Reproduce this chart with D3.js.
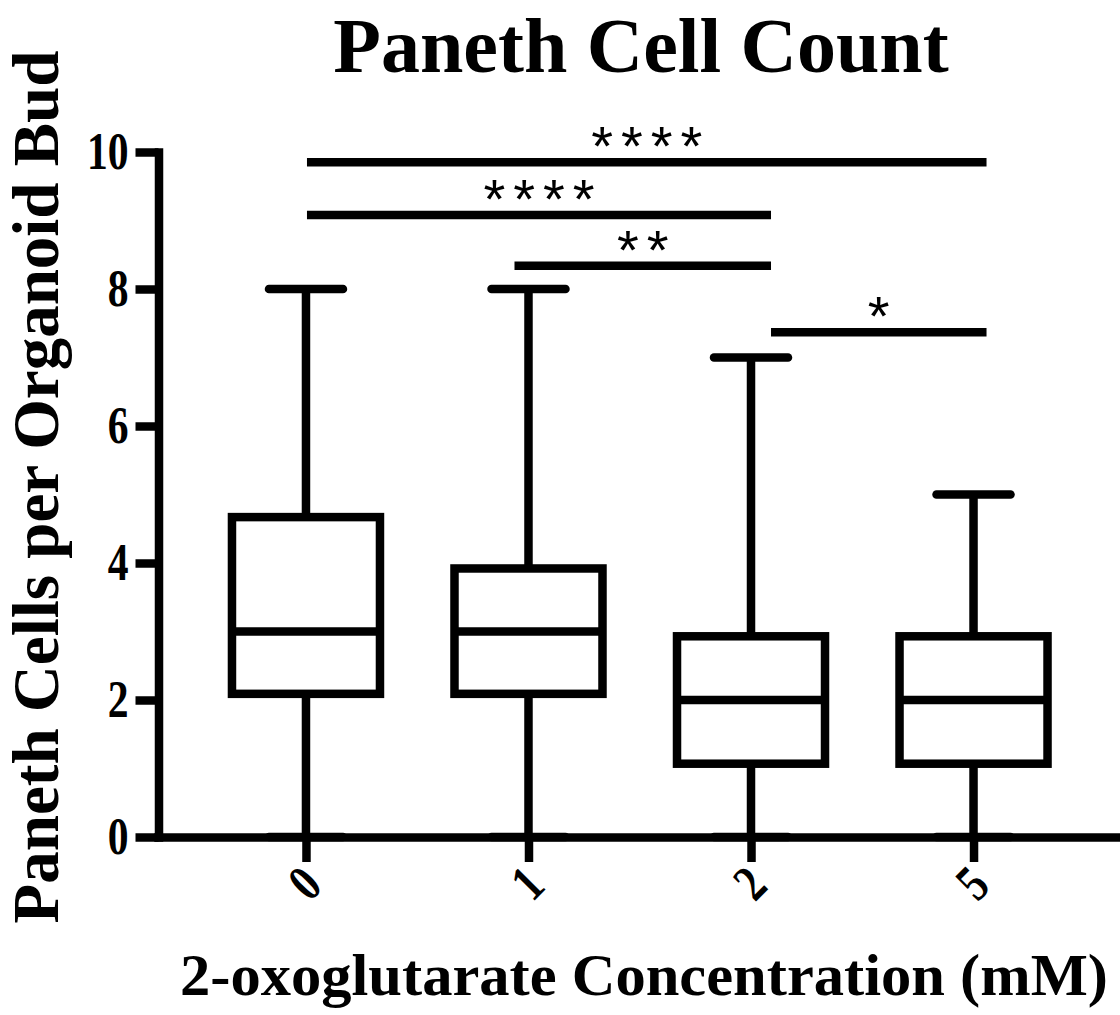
<!DOCTYPE html>
<html>
<head>
<meta charset="utf-8">
<script src="https://cdn.jsdelivr.net/npm/d3@7"></script>
<style>
body{margin:0;background:#fff;}
svg{display:block;}
.axis text{font-family:"Liberation Serif","Times New Roman",serif;font-weight:bold;fill:#000;}
.lbl{font-family:"Liberation Serif","Times New Roman",serif;font-weight:bold;fill:#000;}
.stars{font-family:"Liberation Sans",Arial,sans-serif;fill:#000;}
</style>
</head>
<body>
<div id="container"></div>
<script>
// box plot values
const categories = ["0","1","2","5"];
const mins = [0,0,0,0];
const q1s = [2.09,2.09,1.07,1.07];
const medians = [3,3,2,2];
const q3s = [4.67,3.92,2.93,2.93];
const maxs = [8,8,7,5];
const yTicks = [0,2,4,6,8,10];

// significance bars
const compFrom = ["0","0","1","2"];
const compTo = ["5","2","2","5"];
const compY = [9.85,9.08,8.34,7.37];
const compLabel = ["****","****","**","*"];

const width = 1120, height = 1015;
const sw = 8.5;

const svg = d3.select("#container")
    .append("svg")
    .attr("width",width)
    .attr("height",height);

const scaleX = d3.scalePoint()
    .domain(categories)
    .range([158,1121.5])
    .padding(0.665);

const scaleY = d3.scaleLinear()
    .domain([0,10])
    .range([837,152]);

// Y axis
const yAxis = d3.axisLeft(scaleY).tickValues(yTicks).tickSize(23).tickSizeOuter(0).tickPadding(7);
const gy = svg.append("g")
    .attr("class","axis")
    .attr("transform","translate(158.5,0)")
    .call(yAxis);
gy.select(".domain").attr("stroke","#000").attr("stroke-width",sw).attr("stroke-linecap","square");
gy.selectAll(".tick line").attr("stroke","#000").attr("stroke-width",sw);
gy.selectAll(".tick text")
    .attr("font-size",52)
    .attr("x",-30/0.8)
    .attr("transform","scale(0.8,1)");

// X axis
const xAxis = d3.axisBottom(scaleX).tickSize(25).tickSizeOuter(0);
const gx = svg.append("g")
    .attr("class","axis")
    .attr("transform","translate(0,837)")
    .call(xAxis);
gx.select(".domain").attr("stroke","#000").attr("stroke-width",sw).attr("stroke-linecap","square");
gx.selectAll(".tick line").attr("stroke","#000").attr("stroke-width",sw);
gx.selectAll(".tick text")
    .attr("font-size",52)
    .attr("y",0)
    .attr("dy",null)
    .attr("text-anchor","middle")
    .attr("dominant-baseline","central")
    .attr("transform","translate(-2,46) rotate(-45) scale(0.8,1)");

// boxes and whiskers
const half = 74, capHalf = 37;
const boxes = svg.append("g").attr("stroke","#000").attr("stroke-width",sw).attr("fill","none");
categories.forEach(function(c,i){
    const cx = scaleX(c);
    boxes.append("line").attr("x1",cx).attr("x2",cx).attr("y1",scaleY(maxs[i])).attr("y2",scaleY(q3s[i]));
    boxes.append("line").attr("x1",cx).attr("x2",cx).attr("y1",scaleY(q1s[i])).attr("y2",scaleY(mins[i]));
    boxes.append("line").attr("x1",cx-capHalf).attr("x2",cx+capHalf)
        .attr("y1",scaleY(maxs[i])).attr("y2",scaleY(maxs[i])).attr("stroke-linecap","round");
    boxes.append("line").attr("x1",cx-capHalf).attr("x2",cx+capHalf)
        .attr("y1",scaleY(mins[i])).attr("y2",scaleY(mins[i])).attr("stroke-linecap","round");
    boxes.append("rect")
        .attr("x",cx-half).attr("width",half*2)
        .attr("y",scaleY(q3s[i])).attr("height",scaleY(q1s[i])-scaleY(q3s[i]));
    boxes.append("line").attr("x1",cx-half).attr("x2",cx+half)
        .attr("y1",scaleY(medians[i])).attr("y2",scaleY(medians[i]));
});

// significance lines; ends sit a little off the category centres
const startOff = {"0":1,"1":-14,"2":20};
const endOff = {"2":20,"5":13};
const ls = 8;
const sig = svg.append("g");
compLabel.forEach(function(t,i){
    const x1 = scaleX(compFrom[i]) + startOff[compFrom[i]];
    const x2 = scaleX(compTo[i]) + endOff[compTo[i]];
    const y = scaleY(compY[i]);
    sig.append("line")
        .attr("x1",x1).attr("x2",x2).attr("y1",y).attr("y2",y)
        .attr("stroke","#000").attr("stroke-width",sw);
    sig.append("text")
        .attr("class","stars")
        .attr("x",(x1+x2)/2 + ls/2)
        .attr("y",y+3)
        .attr("font-size",56)
        .attr("letter-spacing",ls)
        .attr("text-anchor","middle")
        .text(t);
});

// title and labels
svg.append("text")
    .attr("class","lbl")
    .attr("x",641)
    .attr("y",72)
    .attr("font-size",78)
    .attr("text-anchor","middle")
    .text("Paneth Cell Count");

svg.append("text")
    .attr("class","lbl")
    .attr("transform","translate(58,487) rotate(-90)")
    .attr("font-size",65)
    .attr("text-anchor","middle")
    .text("Paneth Cells per Organoid Bud");

svg.append("text")
    .attr("class","lbl")
    .attr("x",180)
    .attr("y",995)
    .attr("font-size",60)
    .attr("textLength",928)
    .attr("lengthAdjust","spacingAndGlyphs")
    .text("2-oxoglutarate Concentration (mM)");
</script>
</body>
</html>
